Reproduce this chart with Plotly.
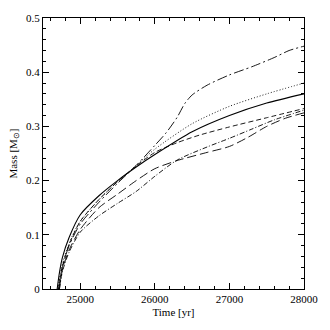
import plotly.graph_objects as go

# Mass accretion histories (time in yr, mass in Msun)
t_solid = [24690, 24720, 24760, 24850, 25000, 25250, 25500, 25750, 26000, 26500, 27000, 27500, 28000]
m_solid = [0.0, 0.03, 0.058, 0.095, 0.137, 0.172, 0.2, 0.225, 0.248, 0.29, 0.32, 0.343, 0.36]

t_dot = [24700, 24740, 24800, 24900, 25000, 25250, 25500, 25750, 26000, 26500, 27000, 27500, 28000]
m_dot = [0.0, 0.035, 0.065, 0.1, 0.125, 0.165, 0.198, 0.228, 0.258, 0.305, 0.337, 0.36, 0.38]

t_top = [24710, 24750, 24850, 25000, 25250, 25500, 25750, 26000, 26150, 26300, 26400, 26500, 26700,
         27000, 27300, 27600, 27800, 28000]
m_top = [0.0, 0.035, 0.08, 0.12, 0.16, 0.195, 0.228, 0.265, 0.288, 0.317, 0.342, 0.358, 0.376,
         0.395, 0.41, 0.427, 0.44, 0.448]

t_sdash = [24710, 24750, 24850, 25000, 25250, 25500, 25750, 26000, 26300, 26600, 27000, 27500, 28000]
m_sdash = [0.0, 0.035, 0.082, 0.125, 0.165, 0.198, 0.227, 0.252, 0.27, 0.284, 0.299, 0.316, 0.333]

t_ldash = [24720, 24760, 24850, 25000, 25250, 25500, 25750, 26000, 26300, 26700, 27000, 27250,
           27500, 27750, 28000]
m_ldash = [0.0, 0.035, 0.072, 0.11, 0.15, 0.175, 0.2, 0.222, 0.237, 0.252, 0.263, 0.28,
           0.3, 0.315, 0.325]

t_dd = [24720, 24760, 24850, 25000, 25250, 25500, 25750, 26000, 26300, 26700, 27000, 27300, 27600, 28000]
m_dd = [0.0, 0.032, 0.068, 0.105, 0.135, 0.158, 0.18, 0.208, 0.238, 0.262, 0.278, 0.295, 0.312, 0.33]

x_ticks = [25000, 26000, 27000, 28000]
y_ticks = [0, 0.1, 0.2, 0.3, 0.4, 0.5]
y_labels = ["0", "0.1", "0.2", "0.3", "0.4", "0.5"]

series = [
    (t_solid, m_solid, "solid", 1.1),
    (t_dot, m_dot, "1px,2px", 0.9),
    (t_top, m_top, "10px,3px,2px,3px", 0.9),
    (t_sdash, m_sdash, "5px,3px", 0.9),
    (t_ldash, m_ldash, "9px,4px", 0.9),
    (t_dd, m_dd, "5px,2px,1px,2px", 0.9),
]

fig = go.Figure()
for t, m, dash, w in series:
    fig.add_trace(go.Scatter(
        x=t, y=m, mode="lines",
        line=dict(color="black", width=w, dash=dash, shape="spline", smoothing=0.7),
        showlegend=False, hoverinfo="skip",
    ))

font = dict(family="Liberation Serif", size=11, color="black")
axis_common = dict(
    showgrid=False, zeroline=False, showline=True, linecolor="black", linewidth=1,
    mirror="allticks", ticks="inside", ticklen=6, tickcolor="black", tickfont=font,
)
fig.update_xaxes(
    range=[24500, 28000], tickvals=x_ticks, ticktext=[str(v) for v in x_ticks],
    minor=dict(tick0=24600, dtick=200, ticks="inside", ticklen=3, tickcolor="black"),
    title=dict(text="Time [yr]", font=font, standoff=4), **axis_common,
)
fig.update_yaxes(
    range=[0, 0.5], tickvals=y_ticks, ticktext=y_labels,
    minor=dict(tick0=0, dtick=0.02, ticks="inside", ticklen=3, tickcolor="black"),
    title=dict(text="Mass [M<sub>⊙</sub>]", font=font, standoff=6), **axis_common,
)
fig.update_layout(
    width=330, height=330, margin=dict(l=41, r=17, t=18, b=41),
    plot_bgcolor="white", paper_bgcolor="white", font=font,
)
fig.write_html("out.html", config={"displayModeBar": False},
               post_script="document.body.style.margin='0';")
